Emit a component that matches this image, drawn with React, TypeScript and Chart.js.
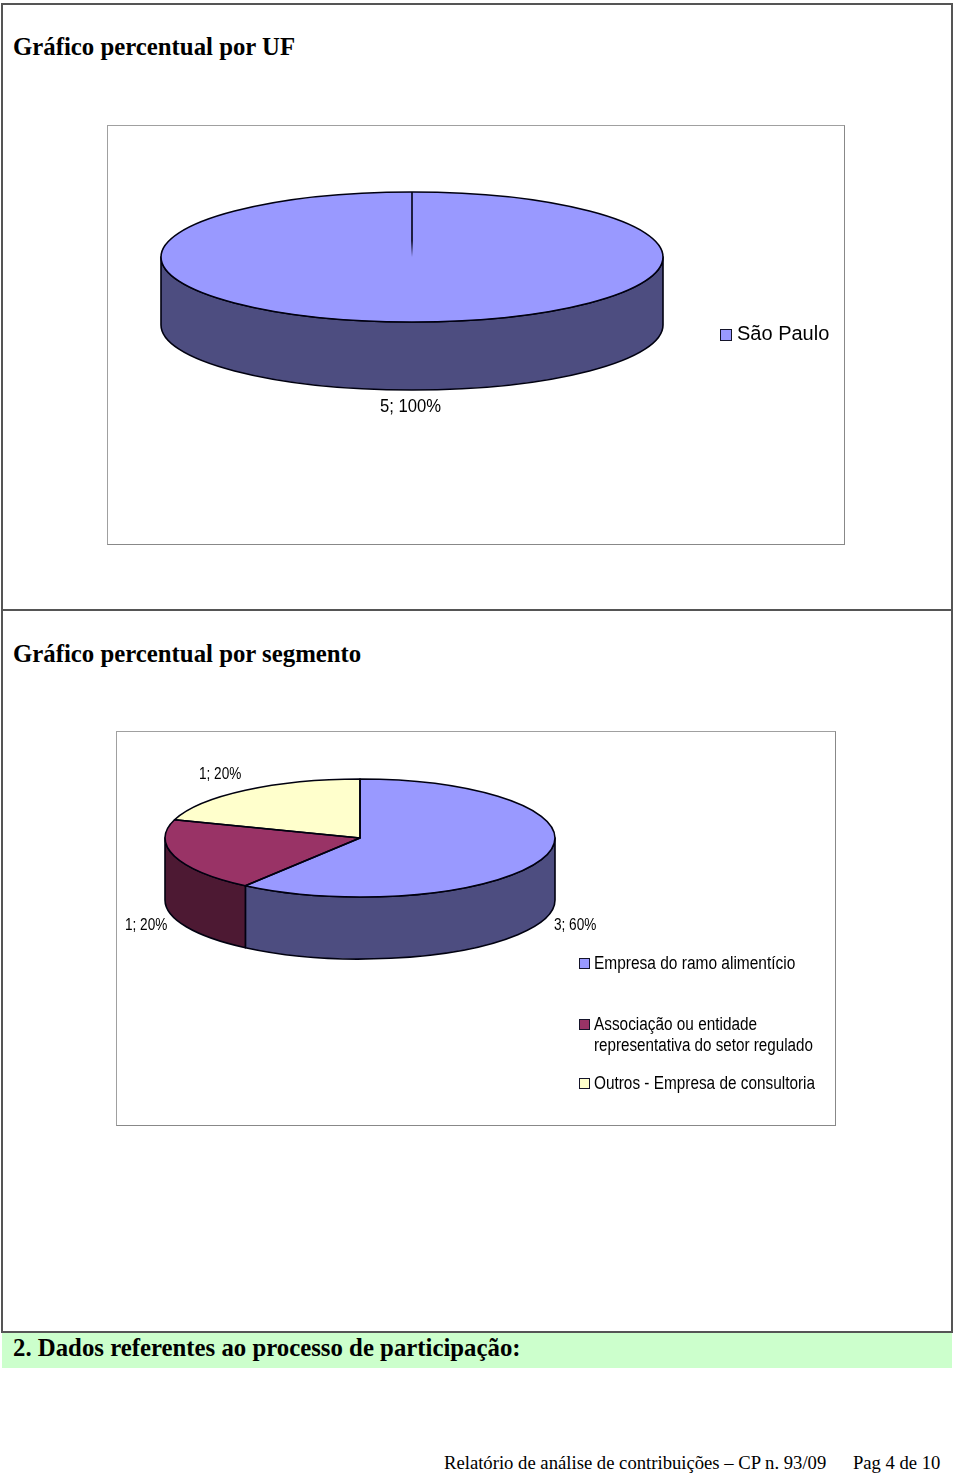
import React, { useEffect, useRef } from "react";
import { Chart, registerables } from "chart.js";

Chart.register(...registerables);

// ---- data ----
const ufCategories = ["São Paulo"];
const ufValues = [5];
const segmentCategories = [
  "Empresa do ramo alimentício",
  "Associação ou entidade representativa do setor regulado",
  "Outros - Empresa de consultoria",
];
const segmentValues = [3, 1, 1];
const ufTitle = "Gráfico percentual por UF";
const segmentTitle = "Gráfico percentual por segmento";
const sectionTitle = "2. Dados referentes ao processo de participação:";
const footerLeft = "Relatório de análise de contribuições – CP n. 93/09";
const footerRight = "Pag 4 de 10";

// ---- styles ----
const topColors = ["#9999FF", "#993366", "#FFFFCC"];
const wallColors = ["#4D4D80", "#4D1933", "#80806A"];
const SERIF = '"Liberation Serif", serif';
const SANS = '"Liberation Sans", sans-serif';

type PieProps = {
  box: { x: number; y: number; w: number; h: number };
  center: { x: number; y: number };
  rx: number;
  ry: number;
  depth: number;
  values: number[];
  categories: string[];
  labelFont: string;
  labelScale: number;
  labelPos: { x: number; y: number }[];
  radial: boolean;
};

function Pie3D(p: PieProps) {
  const ref = useRef<HTMLCanvasElement | null>(null);
  useEffect(() => {
    const cx = p.center.x - p.box.x;
    const cy = p.center.y - p.box.y;
    const ratio = p.ry / p.rx;
    const total = p.values.reduce((a, b) => a + b, 0);
    const plugin = {
      id: "pie3d",
      beforeDatasetsDraw(chart: any) {
        const ctx = chart.ctx;
        const arcs = chart.getDatasetMeta(0).data;
        arcs.forEach((arc: any, i: number) => {
          const { x, y, startAngle, endAngle } = arc.getProps(["x", "y", "startAngle", "endAngle"]);
          const a = Math.max(startAngle, 0);
          const b = Math.min(endAngle, Math.PI);
          if (b <= a) return;
          ctx.save();
          ctx.beginPath();
          ctx.ellipse(x, y, p.rx, p.ry, 0, a, b, false);
          ctx.ellipse(x, y + p.depth, p.rx, p.ry, 0, b, a, true);
          ctx.closePath();
          ctx.fillStyle = wallColors[i];
          ctx.fill();
          ctx.lineWidth = 1.6;
          ctx.strokeStyle = "#000010";
          ctx.lineJoin = "round";
          ctx.stroke();
          ctx.restore();
        });
        const c = arcs[0];
        ctx.save();
        ctx.translate(c.x, c.y);
        ctx.scale(1, ratio);
        ctx.translate(-c.x, -c.y);
      },
      afterDatasetsDraw(chart: any) {
        const ctx = chart.ctx;
        ctx.restore();
        const arcs = chart.getDatasetMeta(0).data;
        ctx.save();
        ctx.lineWidth = 1.6;
        ctx.strokeStyle = "#000010";
        ctx.lineJoin = "round";
        arcs.forEach((arc: any) => {
          const { x, y, startAngle, endAngle } = arc.getProps(["x", "y", "startAngle", "endAngle"]);
          ctx.beginPath();
          if (p.radial) {
            ctx.ellipse(x, y, p.rx, p.ry, 0, 0, Math.PI * 2);
          } else {
            ctx.moveTo(x, y);
            ctx.ellipse(x, y, p.rx, p.ry, 0, startAngle, endAngle, false);
            ctx.closePath();
          }
          ctx.stroke();
          if (p.radial) {
            const g = ctx.createLinearGradient(x, y - p.ry, x, y);
            g.addColorStop(0, "#000010");
            g.addColorStop(0.75, "#000010");
            g.addColorStop(1, "#9999FF");
            ctx.strokeStyle = g;
            ctx.beginPath();
            ctx.moveTo(x, y - p.ry);
            ctx.lineTo(x, y);
            ctx.stroke();
          }
        });
        ctx.restore();
        // value labels
        ctx.save();
        ctx.fillStyle = "#000";
        ctx.font = p.labelFont;
        ctx.textBaseline = "middle";
        ctx.textAlign = "left";
        p.values.forEach((v, i) => {
          const t = `${v}; ${Math.round((v / total) * 100)}%`;
          ctx.save();
          ctx.translate(p.labelPos[i].x - p.box.x, p.labelPos[i].y - p.box.y);
          ctx.scale(p.labelScale, 1);
          ctx.fillText(t, 0, 0);
          ctx.restore();
        });
        ctx.restore();
      },
    };
    const chart = new Chart(ref.current as HTMLCanvasElement, {
      type: "pie",
      data: {
        labels: p.categories,
        datasets: [
          {
            data: p.values,
            backgroundColor: topColors.slice(0, p.values.length),
            borderWidth: 0,
            radius: p.rx,
            clip: false,
          } as any,
        ],
      },
      options: {
        responsive: false,
        animation: false,
        events: [],
        layout: { padding: { right: p.box.w - 2 * cx, bottom: p.box.h - 2 * cy } },
        plugins: { legend: { display: false }, tooltip: { enabled: false } },
      } as any,
      plugins: [plugin as any],
    });
    return () => chart.destroy();
  }, []);
  return (
    <canvas
      ref={ref}
      width={p.box.w}
      height={p.box.h}
      style={{ position: "absolute", left: p.box.x, top: p.box.y, width: p.box.w, height: p.box.h }}
    />
  );
}

function Text(props: {
  x: number;
  y: number;
  text: string;
  font: string;
  size: number;
  bold?: boolean;
  sx?: number;
}) {
  return (
    <div
      style={{
        position: "absolute",
        left: props.x,
        top: props.y - 20,
        height: 40,
        lineHeight: "40px",
        fontFamily: props.font,
        fontSize: props.size,
        fontWeight: props.bold ? "bold" : "normal",
        whiteSpace: "nowrap",
        color: "#000",
        transformOrigin: "left center",
        transform: `scaleX(${props.sx ?? 1})`,
      }}
    >
      {props.text}
    </div>
  );
}

function Line(props: { x: number; y: number; w: number; h: number; c: string }) {
  return (
    <div
      style={{
        position: "absolute",
        left: props.x,
        top: props.y,
        width: props.w,
        height: props.h,
        background: props.c,
      }}
    />
  );
}

function Marker(props: { x: number; y: number; c: string; s: number }) {
  return (
    <div
      style={{
        position: "absolute",
        left: props.x,
        top: props.y,
        width: props.s,
        height: props.s,
        boxSizing: "border-box",
        background: props.c,
        border: "1.5px solid #14142a",
      }}
    />
  );
}

function Box(props: { x: number; y: number; w: number; h: number }) {
  return (
    <div
      style={{
        position: "absolute",
        left: props.x,
        top: props.y,
        width: props.w,
        height: props.h,
        boxSizing: "border-box",
        background: "#fff",
        borderTop: "1px solid #a0a0a0",
        borderLeft: "1px solid #a0a0a0",
        borderRight: "1px solid #888",
        borderBottom: "1px solid #888",
      }}
    />
  );
}

export default function App() {
  const frame = "#555";
  const segWords = segmentCategories[1];
  const splitAt = segWords.indexOf(" representativa");
  return (
    <div
      style={{
        position: "absolute",
        left: 0,
        top: 0,
        width: 960,
        height: 1474,
        background: "#fff",
        overflow: "hidden",
      }}
    >
      <Line x={1} y={3} w={952} h={2} c={frame} />
      <Line x={1} y={3} w={2} h={1330} c={frame} />
      <Line x={951} y={3} w={2} h={1330} c={frame} />
      <Line x={1} y={609} w={952} h={2} c={frame} />
      <Line x={1} y={1331} w={952} h={2} c={frame} />
      <Line x={2} y={1333} w={950} h={35} c="#CCFFCC" />

      <Text x={13} y={47} text={ufTitle} font={SERIF} size={24.8} bold />
      <Text x={13} y={654} text={segmentTitle} font={SERIF} size={24.8} bold />
      <Text x={13} y={1348} text={sectionTitle} font={SERIF} size={24.8} bold />
      <Text x={444} y={1463} text={footerLeft} font={SERIF} size={19} sx={0.982} />
      <Text x={853} y={1463} text={footerRight} font={SERIF} size={19} sx={0.98} />

      <Box x={107} y={125} w={738} h={420} />
      <Pie3D
        box={{ x: 107, y: 125, w: 738, h: 420 }}
        center={{ x: 412, y: 257 }}
        rx={251}
        ry={65}
        depth={68}
        values={ufValues}
        categories={ufCategories}
        labelFont={`18px ${SANS}`}
        labelScale={0.925}
        labelPos={[{ x: 380, y: 407 }]}
        radial
      />
      <Marker x={719.5} y={328.5} c={topColors[0]} s={12} />
      <Text x={737} y={333} text={ufCategories[0]} font={SANS} size={20} />

      <Box x={116} y={731} w={720} h={395} />
      <Pie3D
        box={{ x: 116, y: 731, w: 720, h: 395 }}
        center={{ x: 360, y: 838 }}
        rx={195}
        ry={59}
        depth={62}
        values={segmentValues}
        categories={segmentCategories}
        labelFont={`16px ${SANS}`}
        labelScale={0.85}
        labelPos={[
          { x: 554, y: 926 },
          { x: 125, y: 926 },
          { x: 199, y: 775 },
        ]}
        radial={false}
      />
      <Marker x={579} y={958} c={topColors[0]} s={11} />
      <Text x={594} y={963} text={segmentCategories[0]} font={SANS} size={18} sx={0.86} />
      <Marker x={579} y={1018.5} c={topColors[1]} s={11} />
      <Text x={594} y={1024} text={segWords.slice(0, splitAt)} font={SANS} size={18} sx={0.853} />
      <Text x={594} y={1045} text={segWords.slice(splitAt + 1)} font={SANS} size={18} sx={0.845} />
      <Marker x={579} y={1077.5} c={topColors[2]} s={11} />
      <Text x={594} y={1083} text={segmentCategories[2]} font={SANS} size={18} sx={0.853} />
    </div>
  );
}
